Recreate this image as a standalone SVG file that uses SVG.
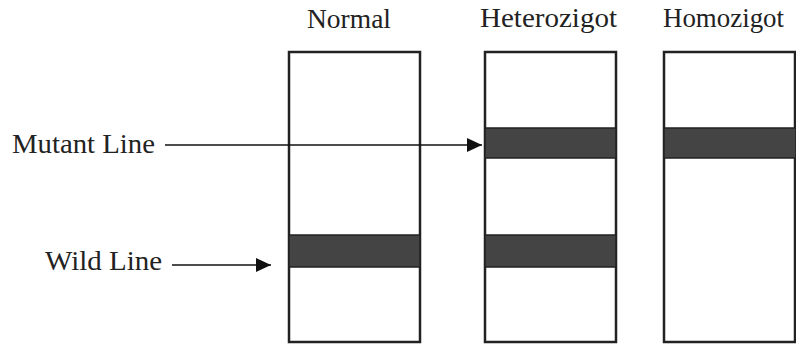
<svg xmlns="http://www.w3.org/2000/svg" width="796" height="349" viewBox="0 0 796 349">
<style>
.lbl{font-family:"Liberation Serif","Times New Roman",serif;font-size:27px;fill:#222}
.box{fill:#fff;stroke:#222;stroke-width:2.5}
.band{fill:#444;stroke:#222;stroke-width:1.5}
.conn{stroke:#111;stroke-width:1.6;fill:none}
</style>
<defs>
<marker id="ah" markerUnits="userSpaceOnUse" markerWidth="16" markerHeight="14" refX="15" refY="7" orient="auto">
<path d="M0,0 L15,7 L0,14 Z" fill="#111"/>
</marker>
</defs>
<rect width="796" height="349" fill="#fff"/>
<g id="normal">
<rect class="box" x="289" y="52" width="131" height="290"/>
<rect class="band" x="289" y="235" width="131" height="32"/>
<text class="lbl" x="307" y="28" textLength="84" lengthAdjust="spacingAndGlyphs">Normal</text>
</g>
<g id="heterozigot">
<rect class="box" x="485" y="52" width="131" height="290"/>
<rect class="band" x="485" y="128" width="131" height="30"/>
<rect class="band" x="485" y="235" width="131" height="32"/>
<text class="lbl" x="480" y="27" textLength="137" lengthAdjust="spacingAndGlyphs">Heterozigot</text>
</g>
<g id="homozigot">
<rect class="box" x="664" y="52" width="131" height="290"/>
<rect class="band" x="664" y="128" width="132" height="30"/>
<text class="lbl" x="663" y="27" textLength="121" lengthAdjust="spacingAndGlyphs">Homozigot</text>
</g>
<g id="mutant-label">
<text class="lbl" x="12" y="153" textLength="143" lengthAdjust="spacingAndGlyphs">Mutant Line</text>
</g>
<g id="wild-label">
<text class="lbl" x="45" y="270" textLength="117" lengthAdjust="spacingAndGlyphs">Wild Line</text>
</g>
<g id="connectors">
<line class="conn" x1="165" y1="145" x2="482" y2="145" marker-end="url(#ah)"/>
<line class="conn" x1="172" y1="265" x2="271" y2="265" marker-end="url(#ah)"/>
</g>
</svg>
